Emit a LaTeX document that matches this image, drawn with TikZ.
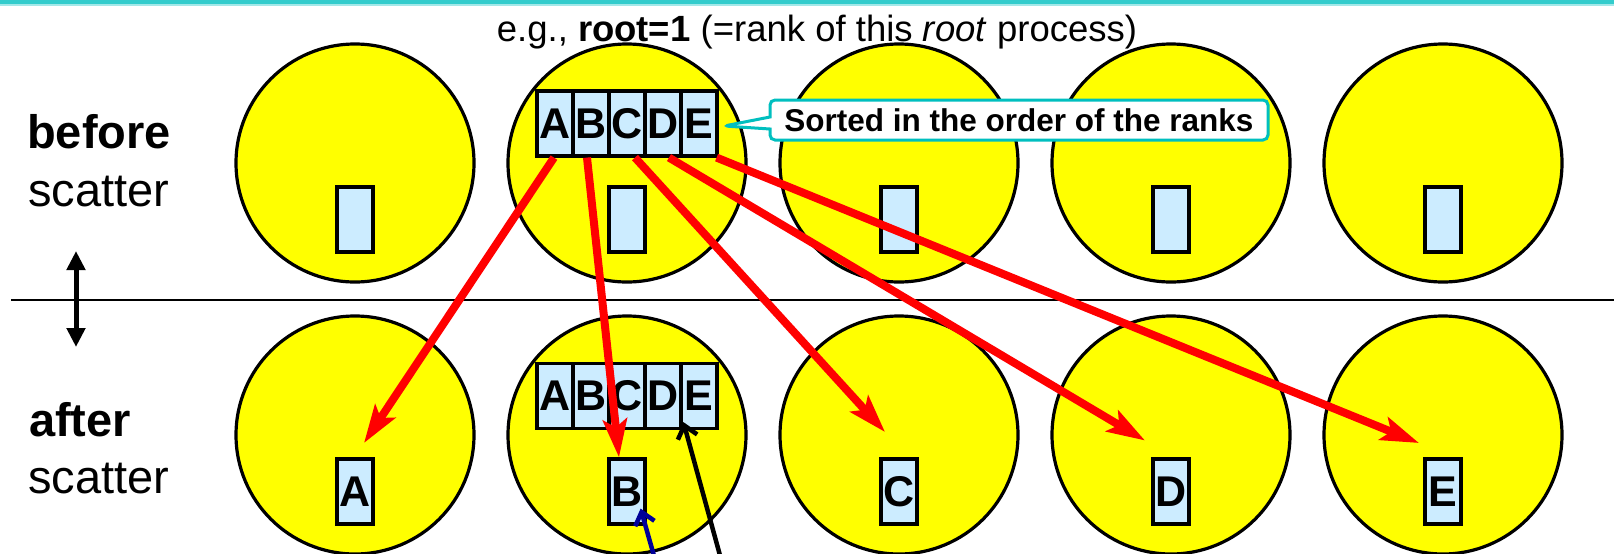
\documentclass[tikz,border=0pt]{standalone}
\usepackage{fontspec}
\setmainfont{Liberation Sans}
\usetikzlibrary{arrows.meta,shapes.callouts}
\definecolor{cellblue}{HTML}{CCECFF}
\definecolor{procyellow}{HTML}{FFFF00}
\definecolor{barcyan}{HTML}{33CCCC}
\definecolor{calloutcyan}{HTML}{00BFBF}
\definecolor{arrowblue}{HTML}{000099}
\begin{document}
\begin{tikzpicture}[x=1pt,y=-1pt,
  proc/.style={circle, draw, line width=3.2pt, fill=procyellow, minimum size=238pt, inner sep=0pt},
  cell/.style={draw, line width=3.2pt, fill=cellblue, minimum width=36pt, minimum height=65pt, inner sep=0pt,
    font=\fontsize{43}{43}\selectfont\bfseries},
  redarrow/.style={draw=red, line width=8pt, -{Stealth[length=38pt,width=24pt,inset=8pt]}},
  ptrarrow/.style={line width=4.5pt, -{Straight Barb[length=12pt,width=20pt,line width=4.5pt]}},
  biglabel/.style={anchor=base west, inner sep=0pt, font=\fontsize{47}{47}\selectfont},
  note/.style={rectangle callout, rounded corners=5pt, draw=calloutcyan, line width=3pt, fill=white,
    minimum width=498pt, minimum height=40pt, inner sep=0pt, callout pointer width=12pt,
    font=\fontsize{31.5}{31.5}\selectfont\bfseries}
  ]
\useasboundingbox (0,0) rectangle (1614,554);
% top bar
\fill[barcyan] (0,0) rectangle (1614,4);
\fill[barcyan!45] (0,4) rectangle (1614,5.5);
% title
\node[anchor=base, inner sep=0pt, font=\fontsize{36.5}{36.5}\selectfont] (title) at (817,41)
  {e.g., \textbf{root=1} (=rank of this \textit{root} process)};
% separator line
\coordinate (sepL) at (11,300);
\coordinate (sepR) at (1614,300);
\draw[line width=2.5pt] (sepL) -- (sepR);
% left labels
\node[biglabel] (lb1) at (27,148) {\bfseries before};
\node[biglabel] (lb2) at (28,206) {scatter};
\node[biglabel] (la1) at (29,436) {\bfseries after};
\node[biglabel] (la2) at (28,493) {scatter};
\coordinate (dblT) at (76,251);
\coordinate (dblB) at (76,347);
\draw[line width=5pt, {Triangle[length=19pt,width=18pt]}-{Triangle[length=19pt,width=18pt]}] (dblT) -- (dblB);
% processes
\foreach \i/\x in {1/355,2/627,3/899,4/1171,5/1443}{
  \node[proc] (pt\i) at (\x,163) {};
  \node[cell] (st\i) at (\x,219.5) {};
  \node[proc] (pb\i) at (\x,435) {};
}
% arrays in root process
\foreach \n/\l/\x in {1/A/555,2/B/591,3/C/627,4/D/663,5/E/699}{
  \node[cell] (ta\n) at (\x,123.5) {\l};
  \node[cell] (ba\n) at (\x,396) {\l};
}
% receive boxes after
\node[cell] (rA) at (355,491.5) {A};
\node[cell] (rB) at (627,491.5) {B};
\node[cell] (rC) at (899,491.5) {C};
\node[cell] (rD) at (1171,491.5) {D};
\node[cell] (rE) at (1443,491.5) {E};
% callout
\coordinate (calltip) at (724,126);
\node[note, callout absolute pointer={(calltip)}] (sorted) at (1019,120) {Sorted in the order of the ranks};
% red arrows
\coordinate (hA) at (364,443);
\coordinate (hC) at (885,432);
\coordinate (hD) at (1145,440.5);
\coordinate (hE) at (1419,443);
\draw[redarrow] ([xshift=-1pt]ta1.south) -- (hA);
\draw[redarrow] ([xshift=-4pt]ta2.south) -- ([xshift=-8pt]rB.north);
\draw[redarrow] ([xshift=8pt]ta3.south) -- (hC);
\draw[redarrow] ([xshift=6pt]ta4.south) -- (hD);
\draw[redarrow] ([xshift=-2pt]ta5.south east) -- (hE);
% pointer arrows from below
\coordinate (blackS) at (724,570);
\coordinate (blueS) at (658,570);
\draw[ptrarrow] (blackS) -- ([xshift=4pt,yshift=8pt]ba5.south west);
\draw[ptrarrow, draw=arrowblue] (blueS) -- ([xshift=-6pt,yshift=17pt]rB.south east);
\end{tikzpicture}
\end{document}
